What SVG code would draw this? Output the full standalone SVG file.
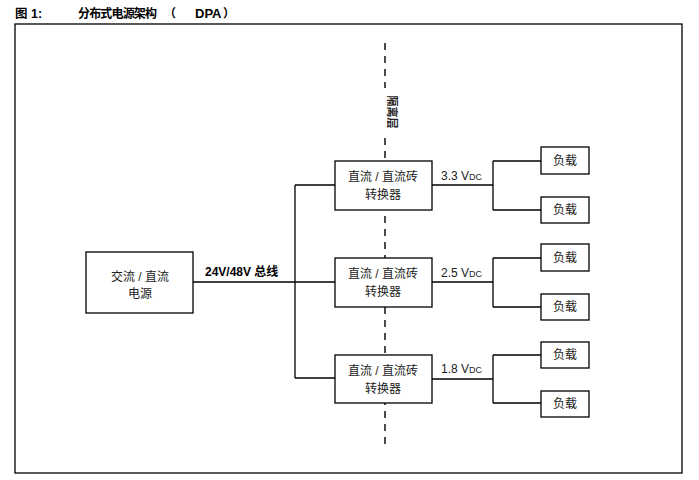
<svg xmlns="http://www.w3.org/2000/svg" width="699" height="480" viewBox="0 0 699 480">
<style>
text{font-family:"Liberation Sans","Noto Sans CJK SC",sans-serif;font-size:12px;fill:#222}
.t{font-weight:bold;fill:#000}
.box{fill:#fff;stroke:#000;stroke-width:1.3}
.c{text-anchor:middle}
.ln{fill:none;stroke:#000;stroke-width:1.3}
</style>
<rect width="699" height="480" fill="#fff"/>
<text class="t" x="15" y="18" style="font-size:12.5px">图 1:</text>
<text class="t" x="78" y="18" textLength="79" lengthAdjust="spacing">分布式电源架构</text>
<text class="t" x="164" y="18">（</text>
<text class="t" x="195" y="18" style="font-size:13px">DPA</text>
<text class="t" x="223" y="18">）</text>
<rect x="15" y="24" width="667" height="449" fill="none" stroke="#000" stroke-width="1.3"/>
<g id="isolation">
<line x1="385" y1="43" x2="385" y2="88" stroke="#000" stroke-width="1.4" stroke-dasharray="7,6"/>
<line x1="385" y1="138" x2="385" y2="450" stroke="#000" stroke-width="1.4" stroke-dasharray="7,6"/>
<text class="c" transform="translate(392,112) rotate(90)" dominant-baseline="central" style="font-size:11px;font-weight:bold">隔离层</text>
</g>
<g id="connectors">
<path class="ln" d="M193 282H295M295 185V378M295 185H335M295 282H335M295 378H335"/>
<path class="ln" d="M432 185H493M493 161V210M493 161H541M493 210H541"/>
<path class="ln" d="M432 282H493M493 258V307M493 258H541M493 307H541"/>
<path class="ln" d="M432 379H493M493 355V403M493 355H541M493 403H541"/>
</g>
<g id="source">
<rect class="box" x="86" y="252" width="107" height="61"/>
<text class="c" x="140" y="281">交流 / 直流</text>
<text class="c" x="140" y="298">电源</text>
</g>
<text class="t" x="205" y="276">24V/48V 总线</text>
<g id="conv1">
<rect class="box" x="335" y="161" width="97" height="49"/>
<text class="c" x="383" y="181">直流 / 直流砖</text>
<text class="c" x="383" y="199">转换器</text>
</g>
<g id="conv2">
<rect class="box" x="335" y="258" width="97" height="49"/>
<text class="c" x="383" y="278">直流 / 直流砖</text>
<text class="c" x="383" y="296">转换器</text>
</g>
<g id="conv3">
<rect class="box" x="335" y="355" width="97" height="48"/>
<text class="c" x="383" y="375">直流 / 直流砖</text>
<text class="c" x="383" y="393">转换器</text>
</g>
<text x="441" y="180">3.3 V<tspan style="font-size:9px">DC</tspan></text>
<text x="441" y="277">2.5 V<tspan style="font-size:9px">DC</tspan></text>
<text x="441" y="373">1.8 V<tspan style="font-size:9px">DC</tspan></text>
<g id="load1a"><rect class="box" x="541" y="147" width="48" height="27"/><text class="c" x="565" y="165">负载</text></g>
<g id="load1b"><rect class="box" x="541" y="197" width="48" height="26"/><text class="c" x="565" y="214">负载</text></g>
<g id="load2a"><rect class="box" x="541" y="244" width="48" height="27"/><text class="c" x="565" y="262">负载</text></g>
<g id="load2b"><rect class="box" x="541" y="294" width="48" height="26"/><text class="c" x="565" y="311">负载</text></g>
<g id="load3a"><rect class="box" x="541" y="342" width="48" height="26"/><text class="c" x="565" y="359">负载</text></g>
<g id="load3b"><rect class="box" x="541" y="391" width="48" height="26"/><text class="c" x="565" y="408">负载</text></g>
</svg>
